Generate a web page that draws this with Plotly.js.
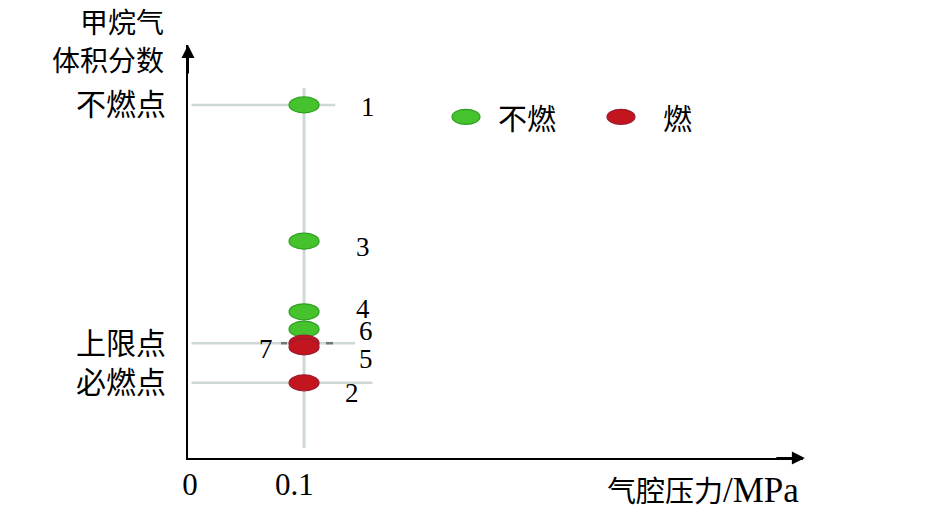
<!DOCTYPE html>
<html>
<head>
<meta charset="utf-8">
<script src="https://cdn.plot.ly/plotly-3.0.1.min.js"></script>
<style>html,body{margin:0;padding:0;background:#fff;}#chart{width:945px;height:514px;}</style>
</head>
<body>
<div id="chart"></div>
<script>
// ---- data ----
const pointIds      = ['1', '3', '4', '6', '7', '5', '2'];
const pressure      = [0.1, 0.1, 0.1, 0.1, 0.1, 0.1, 0.1];
const methaneFrac   = [85.5, 52.5, 35.4, 31.2, 27.8, 26.9, 18.2];
const burnState     = ['不燃', '不燃', '不燃', '不燃', '燃', '燃', '燃'];
const yTickVals     = [85.5, 27.8, 18.2];
const yTickText     = ['不燃点', '上限点', '必燃点'];
const xTickVals     = [0, 0.1];
const xTickText     = ['0', '0.1'];
const legendNames   = ['不燃', '燃'];
const yTitleLines   = ['甲烷气', '体积分数'];

// ---- styles / positions ----
const colors = {'不燃': {fill: '#45c22c', line: '#2f9f22'}, '燃': {fill: '#c3151d', line: '#9a1b33'}};
const labelOffsets = {'1': [64, -2], '3': [59, -6], '4': [59, 3], '6': [62, -2], '5': [62, -12], '7': [-38, -6], '2': [48, -10]};
const gridExtent = {'不燃点': 0.127, '上限点': 0.144, '必燃点': 0.159};
const xTickPad = [['', ''], ['', '&nbsp;&nbsp;&nbsp;']];  // visual nudging of tick labels
const yTitlePos = [1.057, 0.966];
const serif = 'Liberation Serif, Times New Roman, serif';
const cjk = 'Noto Sans CJK SC, sans-serif';

const traces = legendNames.map(name => {
  const idx = burnState.map((s, i) => s === name ? i : -1).filter(i => i >= 0);
  return {
    type: 'scatter', mode: 'markers', name: name, showlegend: false,
    x: idx.map(i => pressure[i]), y: idx.map(i => methaneFrac[i]),
    marker: {size: 14, color: colors[name].fill, line: {color: colors[name].line, width: 1}},
    hoverinfo: 'skip'
  };
});

const shapes = [];
// light grey guide lines
shapes.push({type: 'line', xref: 'x', yref: 'y', x0: 0.1, x1: 0.1, y0: 2.4, y1: 89.6,
  line: {color: '#cfd8d8', width: 3}, layer: 'below'});
yTickText.forEach((t, i) => {
  shapes.push({type: 'line', xref: 'x', yref: 'y', x0: 0.003, x1: gridExtent[t], y0: yTickVals[i], y1: yTickVals[i],
    line: {color: '#cfd8d8', width: 2.5}, layer: 'below'});
});
// small dark dashes at the upper-limit line
[[-23, -17], [22, 29]].forEach(d => {
  shapes.push({type: 'line', xref: 'x', yref: 'y', xsizemode: 'pixel', xanchor: 0.1, x0: d[0], x1: d[1],
    y0: yTickVals[1], y1: yTickVals[1], line: {color: '#6f7777', width: 2.5}, layer: 'below'});
});
// ellipse markers (green first, red on top)
const order = pointIds.map((_, i) => i).sort((a, b) => (burnState[a] === '燃') - (burnState[b] === '燃'));
order.forEach(i => {
  const c = colors[burnState[i]];
  shapes.push({type: 'circle', xref: 'x', yref: 'y', xsizemode: 'pixel', ysizemode: 'pixel',
    xanchor: pressure[i], yanchor: methaneFrac[i], x0: -15, x1: 15, y0: -8, y1: 8,
    fillcolor: c.fill, line: {color: c.line, width: 1.2}, layer: 'above'});
});
// legend ellipses (paper coords)
const legendY = 0.826;
const legendPos = [0.452, 0.704];
legendNames.forEach((n, k) => {
  shapes.push({type: 'circle', xref: 'paper', yref: 'paper', xsizemode: 'pixel', ysizemode: 'pixel',
    xanchor: legendPos[k], yanchor: legendY, x0: -14, x1: 14, y0: -7.5, y1: 7.5,
    fillcolor: colors[n].fill, line: {color: colors[n].line, width: 1.2}});
});

const annotations = [];
pointIds.forEach((id, i) => {
  annotations.push({x: pressure[i], y: methaneFrac[i], xref: 'x', yref: 'y', text: id, showarrow: false,
    xshift: labelOffsets[id][0], yshift: labelOffsets[id][1], font: {family: serif, size: 27, color: '#000'}});
});
// legend text
annotations.push({xref: 'paper', yref: 'paper', x: 0.551, y: legendY, xanchor: 'center', yanchor: 'middle',
  text: legendNames[0], showarrow: false, font: {family: cjk, size: 29, color: '#000'}});
annotations.push({xref: 'paper', yref: 'paper', x: 0.796, y: legendY, xanchor: 'center', yanchor: 'middle',
  text: legendNames[1], showarrow: false, font: {family: cjk, size: 29, color: '#000'}});
// axis titles
yTitleLines.forEach((t, k) => {
  annotations.push({xref: 'paper', yref: 'paper', x: -0.036, y: yTitlePos[k], xanchor: 'right', yanchor: 'middle',
    text: t, showarrow: false, font: {family: cjk, size: 28, color: '#000'}});
});
annotations.push({xref: 'paper', yref: 'paper', x: 0.997, y: -0.075, xanchor: 'right', yanchor: 'middle',
  text: '气腔压力<span style="font-family:Liberation Serif;font-size:35px">/MPa</span>', showarrow: false,
  font: {family: cjk, size: 29, color: '#000'}});
// axis arrowheads
annotations.push({xref: 'paper', yref: 'paper', x: 1.003, y: 0, ax: -30, ay: 0, axref: 'pixel', ayref: 'pixel',
  showarrow: true, arrowhead: 2, arrowsize: 1.3, arrowwidth: 2, arrowcolor: '#000', text: ''});
annotations.push({xref: 'paper', yref: 'paper', x: 0, y: 1.0, ax: 0, ay: 30, axref: 'pixel', ayref: 'pixel',
  showarrow: true, arrowhead: 2, arrowsize: 1.3, arrowwidth: 2, arrowcolor: '#000', text: ''});

const layout = {
  width: 945, height: 514,
  margin: {l: 188, r: 142, t: 45, b: 56},
  paper_bgcolor: '#fff', plot_bgcolor: '#fff',
  showlegend: false,
  xaxis: {range: [0, 0.53], showgrid: false, zeroline: false, showline: true, linecolor: '#000', linewidth: 2,
    tickvals: xTickVals, ticktext: xTickText.map((t, i) => xTickPad[i][0] + t + xTickPad[i][1]),
    ticks: '', ticklabelstandoff: -2, ticklabelshift: 2,
    tickfont: {family: serif, size: 31, color: '#000'}},
  yaxis: {range: [0, 100], showgrid: false, zeroline: false, showline: true, linecolor: '#000', linewidth: 2,
    tickvals: yTickVals, ticktext: yTickText, ticks: '', ticklabelstandoff: 14,
    tickfont: {family: cjk, size: 30, color: '#000'}},
  shapes: shapes,
  annotations: annotations
};

Plotly.newPlot('chart', traces, layout, {displayModeBar: false, staticPlot: true});
</script>
</body>
</html>
